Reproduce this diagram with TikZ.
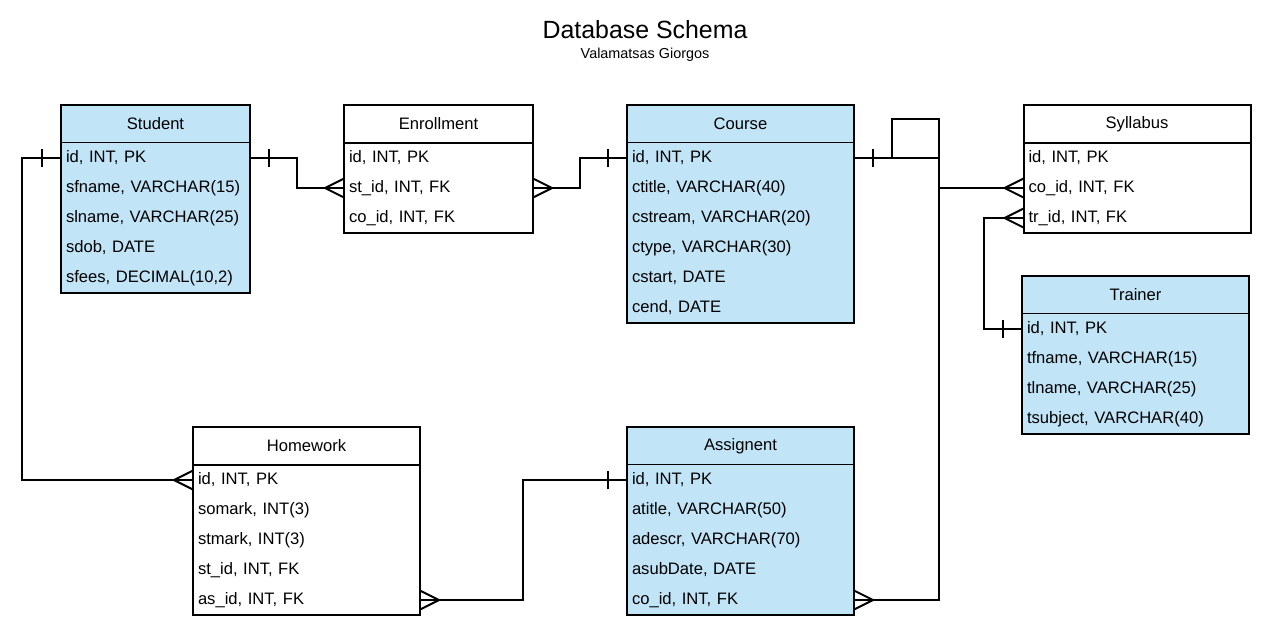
\documentclass[tikz,border=0pt]{standalone}
\usepackage{fontspec}
\setmainfont{Liberation Sans}
\usetikzlibrary{positioning,decorations.markings}
\definecolor{tblue}{RGB}{193,228,247}

\def\markgap{19pt}

\begin{document}
\begin{tikzpicture}[x=1pt,y=-1pt,line width=2pt,node distance=0pt,
		font=\fontsize{16.6}{20}\selectfont]
				\tikzstyle{head}=[draw,minimum height=38pt,inner sep=0pt,outer sep=0pt]
				\tikzstyle{row}=[minimum height=30pt,inner xsep=5pt,inner ysep=0pt,outer sep=0pt,align=left]
				\tikzstyle{narrow}=[minimum width=189pt]
				\tikzstyle{wide}=[minimum width=227pt]
				\tikzstyle{narrow row}=[row,text width=179pt]
				\tikzstyle{wide row}=[row,text width=217pt]
				\tikzstyle{one start}=[postaction={decorate,decoration={markings,mark=at position \markgap with {\draw[line width=1.5pt] (0pt,-9pt) -- (0pt,9pt);}}}]
				\tikzstyle{one end}=[postaction={decorate,decoration={markings,mark=at position -\markgap with {\draw[line width=1.5pt] (0pt,-9pt) -- (0pt,9pt);}}}]
				\tikzstyle{many start}=[postaction={decorate,decoration={markings,mark=at position \markgap with {\draw (0pt,0pt) -- (-19pt,9.5pt) (0pt,0pt) -- (-19pt,-9.5pt);}}}]
				\tikzstyle{many end}=[postaction={decorate,decoration={markings,mark=at position -\markgap with {\draw (0pt,0pt) -- (19pt,9.5pt) (0pt,0pt) -- (19pt,-9.5pt);}}}]

			    \useasboundingbox (0,0) rectangle (1270,630);

			    % Title
			    \node (title) at (645,30) {\fontsize{24.9}{28}\selectfont Database Schema};
			    \node (author) at (645,55) {\fontsize{14.4}{17}\selectfont Valamatsas Giorgos};

			    % Student
			    \node[head,narrow,fill=tblue] (student) at (155.5,124) {Student};
			    \node[narrow row,fill=tblue,below=of student] (student-id) {id, INT, PK};
			    \node[narrow row,fill=tblue,below=of student-id] (student-fname) {sfname, VARCHAR(15)};
			    \node[narrow row,fill=tblue,below=of student-fname] (student-lname) {slname, VARCHAR(25)};
			    \node[narrow row,fill=tblue,below=of student-lname] (student-dob) {sdob, DATE};
			    \node[narrow row,fill=tblue,below=of student-dob] (student-fees) {sfees, DECIMAL(10,2)};
			    \draw (student.north west) rectangle (student-fees.south east);

			    % Enrollment
			    \node[head,narrow] (enroll) at (438.5,124) {Enrollment};
			    \node[narrow row,below=of enroll] (enroll-id) {id, INT, PK};
			    \node[narrow row,below=of enroll-id] (enroll-st) {st\_id, INT, FK};
			    \node[narrow row,below=of enroll-st] (enroll-co) {co\_id, INT, FK};
			    \draw (enroll.north west) rectangle (enroll-co.south east);

			    % Course
			    \node[head,wide,fill=tblue] (course) at (740.5,124) {Course};
			    \node[wide row,fill=tblue,below=of course] (course-id) {id, INT, PK};
			    \node[wide row,fill=tblue,below=of course-id] (course-title) {ctitle, VARCHAR(40)};
			    \node[wide row,fill=tblue,below=of course-title] (course-stream) {cstream, VARCHAR(20)};
			    \node[wide row,fill=tblue,below=of course-stream] (course-type) {ctype, VARCHAR(30)};
			    \node[wide row,fill=tblue,below=of course-type] (course-start) {cstart, DATE};
			    \node[wide row,fill=tblue,below=of course-start] (course-end) {cend, DATE};
			    \draw (course.north west) rectangle (course-end.south east);

			    % Syllabus
			    \node[head,wide] (syl) at (1137,124) {Syllabus};
			    \node[wide row,below=of syl] (syl-id) {id, INT, PK};
			    \node[wide row,below=of syl-id] (syl-co) {co\_id, INT, FK};
			    \node[wide row,below=of syl-co] (syl-tr) {tr\_id, INT, FK};
			    \draw (syl.north west) rectangle (syl-tr.south east);

			    % Trainer
			    \node[head,wide,fill=tblue] (trainer) at (1135.5,295) {Trainer};
			    \node[wide row,fill=tblue,below=of trainer] (trainer-id) {id, INT, PK};
			    \node[wide row,fill=tblue,below=of trainer-id] (trainer-fname) {tfname, VARCHAR(15)};
			    \node[wide row,fill=tblue,below=of trainer-fname] (trainer-lname) {tlname, VARCHAR(25)};
			    \node[wide row,fill=tblue,below=of trainer-lname] (trainer-subject) {tsubject, VARCHAR(40)};
			    \draw (trainer.north west) rectangle (trainer-subject.south east);

			    % Homework
			    \node[head,wide] (hw) at (306.5,446) {Homework};
			    \node[wide row,below=of hw] (hw-id) {id, INT, PK};
			    \node[wide row,below=of hw-id] (hw-omark) {somark, INT(3)};
			    \node[wide row,below=of hw-omark] (hw-tmark) {stmark, INT(3)};
			    \node[wide row,below=of hw-tmark] (hw-st) {st\_id, INT, FK};
			    \node[wide row,below=of hw-st] (hw-as) {as\_id, INT, FK};
			    \draw (hw.north west) rectangle (hw-as.south east);

			    % Assignent
			    \node[head,wide,fill=tblue] (asg) at (740.5,446) {Assignent};
			    \node[wide row,fill=tblue,below=of asg] (asg-id) {id, INT, PK};
			    \node[wide row,fill=tblue,below=of asg-id] (asg-title) {atitle, VARCHAR(50)};
			    \node[wide row,fill=tblue,below=of asg-title] (asg-descr) {adescr, VARCHAR(70)};
			    \node[wide row,fill=tblue,below=of asg-descr] (asg-sub) {asubDate, DATE};
			    \node[wide row,fill=tblue,below=of asg-sub] (asg-co) {co\_id, INT, FK};
			    \draw (asg.north west) rectangle (asg-co.south east);

			    % Relations
			    \draw[one start,many end] (student-id.east) -- ++(47,0) |- (enroll-st.west);
			    \draw[many start,one end] (enroll-st.east) -- ++(47,0) |- (course-id.west);
			    \draw[one start,many end] (course-id.east) -- ++(38,0) -- ++(0,-39) -- ++(47,0) |- (syl-co.west);
			    \draw[one start,many end] (course-id.east) -- ++(85,0) |- (asg-co.east);
			    \draw[many start,one end] (syl-tr.west) -- ++(-40,0) |- (trainer-id.west);
			    \draw[one start,many end] (student-id.west) -- ++(-39,0) |- (hw-id.west);
			    \draw[many start,one end] (hw-as.east) -- ++(103,0) |- (asg-id.west);

			\end{tikzpicture}
\end{document}
